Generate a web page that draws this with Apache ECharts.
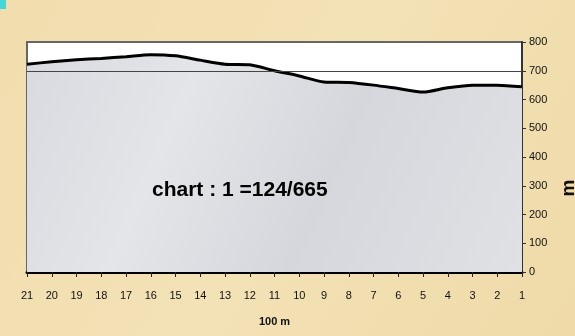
<!DOCTYPE html>
<html>
<head>
<meta charset="utf-8">
<script src="https://cdn.jsdelivr.net/npm/echarts@6/dist/echarts.min.js"></script>
<style>
  html, body { margin: 0; padding: 0; }
  #chart { width: 575px; height: 336px; }
</style>
</head>
<body>
<div id="chart"></div>
<script>
// distance markers (x 100 m), read right to left like the original
var stations = ['21', '20', '19', '18', '17', '16', '15', '14', '13', '12', '11',
  '10', '9', '8', '7', '6', '5', '4', '3', '2', '1']
// height profile in m
var heights = [723, 731, 738, 743, 749, 756, 752, 737, 723, 721, 700,
  682, 661, 659, 650, 638, 626, 641, 650, 650, 644]
var refLevel = 700
var scaleText = 'chart : 1 =124/665'

var myChart = echarts.init(document.getElementById('chart'))
var option = {
  backgroundColor: {
    type: 'linear', x: 0, y: 0, x2: 1, y2: 1,
    colorStops: [
      { offset: 0, color: '#f1ddae' },
      { offset: 0.5, color: '#f3e2b6' },
      { offset: 1, color: '#efdaa8' }
    ]
  },
  animation: false,
  grid: {
    left: 27,
    right: 53,
    top: 42,
    bottom: 64,
    outerBoundsMode: 'none',
    containLabel: false,
    show: true,
    backgroundColor: '#ffffff',
    borderColor: '#666',
    borderWidth: 2
  },
  xAxis: {
    type: 'category',
    data: stations,
    boundaryGap: false,
    name: '100 m',
    nameLocation: 'middle',
    nameGap: 44,
    nameTextStyle: { fontFamily: 'Liberation Sans', fontWeight: 'bold', fontSize: 11, color: '#111' },
    axisLine: { lineStyle: { color: '#000', width: 3 } },
    axisTick: { alignWithLabel: true, length: 5, lineStyle: { color: '#222' } },
    axisLabel: { margin: 18, fontFamily: 'Liberation Sans', fontSize: 11, color: '#111' },
    splitLine: { show: false }
  },
  yAxis: {
    type: 'value',
    position: 'right',
    min: 0,
    max: 800,
    interval: 100,
    axisLine: { show: true, lineStyle: { color: '#333', width: 2 } },
    axisTick: { show: true, length: 4, lineStyle: { color: '#333' } },
    axisLabel: { margin: 7, fontFamily: 'Liberation Sans', fontSize: 11, color: '#111' },
    splitLine: { show: false }
  },
  series: [
    {
      type: 'line',
      z: 1,
      data: [],
      markLine: {
        silent: true,
        symbol: 'none',
        label: { show: false },
        lineStyle: { color: '#444', width: 1, type: 'solid' },
        data: [{ yAxis: refLevel }]
      }
    },
    {
      type: 'line',
      z: 2,
      data: heights,
      smooth: 0.25,
      symbol: 'none',
      lineStyle: { color: '#000', width: 3 },
      areaStyle: {
        opacity: 1,
        color: {
          type: 'linear', x: 0, y: 0, x2: 1, y2: 1,
          colorStops: [
            { offset: 0, color: '#d9dadf' },
            { offset: 0.3, color: '#e4e5e9' },
            { offset: 0.6, color: '#d6d7dc' },
            { offset: 1, color: '#e0e1e5' }
          ]
        }
      }
    }
  ],
  graphic: [
    { type: 'rect', left: 0, top: 0, shape: { width: 6, height: 9 }, style: { fill: '#45d6d8' } },
    {
      type: 'text',
      left: 152,
      top: 180,
      z: 10,
      style: { text: scaleText, font: 'bold 21px "Liberation Sans"', fill: '#000' }
    },
    {
      // axis unit, rotated like the original
      type: 'text',
      x: 569,
      y: 188,
      rotation: Math.PI / 2,
      z: 10,
      style: {
        text: 'm',
        font: 'bold 19px "Liberation Sans"',
        fill: '#111',
        align: 'center',
        verticalAlign: 'middle'
      }
    }
  ]
}
myChart.setOption(option)
</script>
</body>
</html>
